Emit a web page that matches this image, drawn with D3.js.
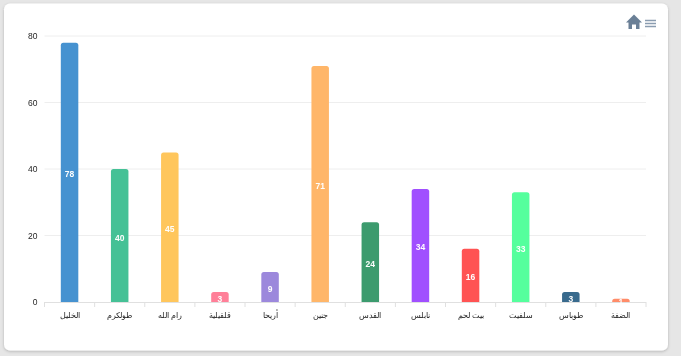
<!DOCTYPE html>
<html><head><meta charset="utf-8">
<script src="https://cdn.jsdelivr.net/npm/d3@7/dist/d3.min.js"></script>
<style>html,body{margin:0;padding:0;background:#e6e6e6;overflow:hidden}svg{display:block}text{font-family:"Liberation Sans",Arial,sans-serif}</style>
</head><body><svg id="c" width="681" height="356"></svg>
<script>
const categories=["الخليل","طولكرم","رام الله","قلقيلية","أريحا","جنين","القدس","نابلس","بيت لحم","سلفيت","طوباس","الضفة"];
const values=[78,40,45,3,9,71,24,34,16,33,3,1];
const colors=["#4692d0","#45c196","#ffc65c","#ff7f98","#9c88dc","#ffb669","#3c9b6e","#a04fff","#ff5353","#55ff9d","#386a8d","#ff8c69"];
const yTicks=[0,20,40,60,80];
const svg=d3.select("#c");
const m={l:44.5,r:646,t:36,b:302};
const defs=svg.append("defs");
const f=defs.append("filter").attr("id","s").attr("x","-5%").attr("y","-5%").attr("width","110%").attr("height","110%");
f.append("feDropShadow").attr("dx",0).attr("dy",1).attr("stdDeviation",1.5).attr("flood-color","#000").attr("flood-opacity",.22);
svg.append("rect").attr("x",4).attr("y",3.5).attr("width",664).attr("height",347).attr("rx",6).attr("fill","#fff").attr("filter","url(#s)");
const x=d3.scaleBand().domain(categories).range([m.l,m.r]);
const y=d3.scaleLinear().domain([0,80]).range([m.b,m.t]);
svg.append("g").selectAll("line").data(yTicks.filter(d=>d>0)).join("line")
 .attr("x1",m.l).attr("x2",m.r).attr("y1",d=>y(d)).attr("y2",d=>y(d)).attr("stroke","#eeeeee");
const ax=svg.append("g");
ax.append("line").attr("x1",m.l).attr("x2",m.r).attr("y1",m.b+.5).attr("y2",m.b+.5).attr("stroke","#e0e0e0");
ax.selectAll(".t").data(d3.range(categories.length+1)).join("line").attr("class","t")
 .attr("x1",i=>m.l+i*x.bandwidth()).attr("x2",i=>m.l+i*x.bandwidth()).attr("y1",m.b).attr("y2",m.b+5).attr("stroke","#e0e0e0");
svg.append("g").attr("opacity",.99).selectAll("text").data(yTicks).join("text").attr("x",37.5).attr("y",d=>y(d)+3).attr("text-anchor","end")
 .attr("font-size",8.5).attr("fill","#222").text(d=>d);
svg.append("g").attr("opacity",.99).selectAll("text").data(categories).join("text").attr("x",d=>x(d)+x.bandwidth()/2).attr("y",318)
 .attr("text-anchor","middle").attr("font-size",7.5).attr("fill","#222").attr("direction","rtl").text(d=>d);
const bw=17.5;
const bar=(d,i)=>{const x0=x(categories[i])+x.bandwidth()/2-bw/2,y0=y(d),r=Math.min(2.5,y(0)-y0);
 return `M${x0},${y(0)}V${y0+r}Q${x0},${y0} ${x0+r},${y0}H${x0+bw-r}Q${x0+bw},${y0} ${x0+bw},${y0+r}V${y(0)}Z`;};
svg.append("g").selectAll("path").data(values).join("path").attr("d",bar).attr("fill",(d,i)=>colors[i]);
svg.append("g").attr("opacity",.99).selectAll("text").data(values).join("text")
 .attr("x",(d,i)=>x(categories[i])+x.bandwidth()/2).attr("y",d=>(y(d)+y(0))/2+5)
 .attr("text-anchor","middle").attr("font-size",8.5).attr("font-weight","bold").attr("fill","#fff").text(d=>d);
const tb=svg.append("g");
tb.append("path").attr("d","M634,14.5 L626,22.5 H628.5 V29 H632 V24.5 H636 V29 H639.5 V22.5 H642 Z").attr("fill","#6a7f96");
[20.5,23.5,26.5].forEach(v=>tb.append("rect").attr("x",645).attr("y",v-.75).attr("width",11).attr("height",1.5).attr("fill","#8a9cb0"));
</script></body></html>
